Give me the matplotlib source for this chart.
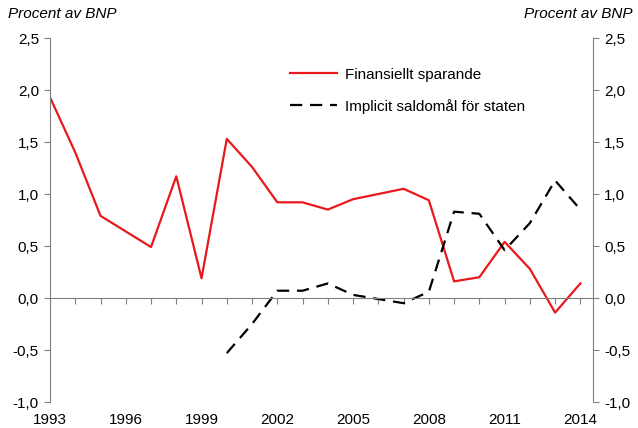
import matplotlib
matplotlib.use('Agg')
import matplotlib.pyplot as plt

plt.rcParams['font.family'] = ['Liberation Sans', 'DejaVu Sans']

# data
years_red = list(range(1993, 2015))
finansiellt = [1.93, 1.40, 0.79, 0.64, 0.49, 1.17, 0.19, 1.53, 1.26, 0.92, 0.92,
               0.85, 0.95, 1.00, 1.05, 0.94, 0.16, 0.20, 0.54, 0.28, -0.14, 0.14]
years_black = list(range(2000, 2015))
saldomal = [-0.53, -0.25, 0.07, 0.07, 0.14, 0.03, -0.01, -0.05, 0.06, 0.83,
            0.81, 0.46, 0.72, 1.13, 0.85]
xlabels = [1993, 1996, 1999, 2002, 2005, 2008, 2011, 2014]
yticks = [-1.0, -0.5, 0.0, 0.5, 1.0, 1.5, 2.0, 2.5]

grey = '#808080'
fs = 11

fig = plt.figure(figsize=(6.38, 4.28), dpi=100)
ax = fig.add_axes([50/638, 1 - 402/428, 543/638, 364/428])

ax.plot(years_red, finansiellt, color='#e8191c', lw=1.6, label='Finansiellt sparande')
ax.plot(years_black, saldomal, color='black', lw=1.6, dashes=(5.5, 3.5),
        label='Implicit saldomål för staten')

ax.set_xlim(1993, 2014.5)
ax.set_ylim(-1.0, 2.5)

# spines
ax.spines['top'].set_visible(False)
ax.spines['bottom'].set_position(('data', 0))
ax.spines['bottom'].set_color(grey)
ax.spines['left'].set_color(grey)
ax.spines['right'].set_visible(False)

ax.set_xticks(years_red)
ax.tick_params(axis='x', direction='out', length=4, color=grey, labelbottom=False)
ax.set_yticks(yticks)
ax.set_yticklabels([('%.1f' % v).replace('.', ',') for v in yticks])
ax.tick_params(axis='y', direction='out', length=4, color=grey, labelsize=fs, pad=4)

for yr in xlabels:
    ax.annotate(str(yr), xy=(yr, -1.0), xycoords='data', xytext=(0, -8),
                textcoords='offset points', ha='center', va='top', fontsize=fs)

ax2 = ax.twinx()
ax2.set_ylim(-1.0, 2.5)
ax2.set_yticks(yticks)
ax2.set_yticklabels([('%.1f' % v).replace('.', ',') for v in yticks])
ax2.tick_params(axis='y', direction='out', length=4, color=grey, labelsize=fs, pad=4)
for s in ['top', 'left', 'bottom']:
    ax2.spines[s].set_visible(False)
ax2.spines['right'].set_color(grey)

fig.text(8/638, 1 - 14/428, 'Procent av BNP', style='italic', fontsize=fs,
         ha='left', va='center')
fig.text(632/638, 1 - 14/428, 'Procent av BNP', style='italic', fontsize=fs,
         ha='right', va='center')

ax.legend(loc='upper left', bbox_to_anchor=(276/638, 1 - 54/428),
          bbox_transform=fig.transFigure, frameon=False, fontsize=fs,
          handlelength=3.1, handletextpad=0.5, labelspacing=1.1)

plt.savefig('out.png', dpi=100)
